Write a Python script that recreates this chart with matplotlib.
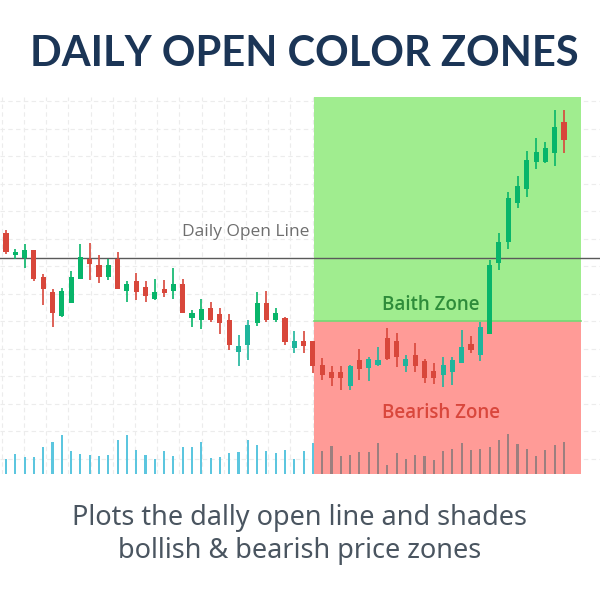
import matplotlib
matplotlib.use("Agg")
import matplotlib.pyplot as plt
import numpy as np
from matplotlib.ticker import FixedLocator

# candle data (price units, daily open = 100)
opens = [102.5, 100.3, 100.0, 100.8, 98.1, 96.6, 94.2, 95.5, 97.9, 99.9,
         99.3, 98.1, 99.9, 96.7, 97.7, 97.1, 95.9, 96.9, 96.7, 97.4,
         94.0, 93.8, 95.0, 94.4, 93.8, 90.6, 91.3, 93.5, 95.5, 93.8,
         94.0, 91.0, 91.7, 91.7, 89.3, 88.6, 88.6, 87.2, 89.8, 89.0,
         89.3, 92.0, 91.7, 89.2, 90.3, 89.7, 88.7, 88.3, 88.6, 89.5,
         91.4, 90.3, 92.4, 99.5, 101.6, 105.5, 106.9, 109.6, 109.6, 110.5,
         113.6]
highs = [102.8, 100.9, 101.4, 100.8, 98.4, 96.9, 97.0, 98.7, 101.4, 101.5,
         100.3, 99.9, 100.6, 97.7, 98.5, 97.7, 97.9, 97.8, 99.0, 97.9,
         94.8, 95.9, 95.6, 95.0, 94.4, 92.3, 93.8, 96.6, 96.7, 95.0,
         94.1, 92.7, 92.7, 91.7, 90.0, 89.2, 89.2, 89.3, 90.9, 90.1,
         91.1, 93.0, 92.5, 90.3, 91.5, 89.9, 89.5, 90.1, 90.1, 92.8,
         92.2, 93.6, 99.8, 102.5, 106.6, 108.2, 110.7, 112.0, 111.6, 114.8,
         114.8]
lows = [100.4, 99.9, 99.0, 97.7, 95.3, 93.1, 94.1, 95.5, 97.9, 97.8,
        97.5, 97.8, 96.9, 95.6, 95.8, 95.6, 95.8, 96.1, 95.9, 94.5,
        93.1, 92.9, 93.6, 92.4, 90.8, 89.2, 89.8, 93.2, 93.6, 93.6,
        91.3, 90.5, 90.5, 88.5, 87.8, 87.2, 86.8, 86.8, 87.8, 87.7,
        89.2, 89.8, 89.1, 88.6, 88.6, 87.5, 87.4, 87.1, 87.3, 89.5,
        90.5, 89.7, 92.4, 98.8, 100.9, 105.0, 106.1, 108.9, 109.5, 109.2,
        110.5]
closes = [100.6, 100.6, 100.8, 97.9, 96.9, 94.5, 96.7, 98.1, 100.1, 99.4,
          98.1, 99.3, 96.9, 97.4, 96.6, 96.2, 96.6, 96.5, 97.4, 94.5,
          94.5, 94.9, 93.8, 93.5, 91.3, 91.2, 93.3, 95.5, 93.8, 94.5,
          91.6, 91.7, 91.2, 89.2, 88.3, 88.0, 88.0, 89.2, 88.9, 89.9,
          89.8, 89.9, 90.1, 89.9, 89.2, 88.0, 88.0, 89.3, 89.8, 91.1,
          90.8, 93.1, 99.3, 101.6, 106.0, 107.2, 109.8, 110.6, 111.0, 113.1,
          111.8]
volumes = [460, 600, 520, 510, 810, 980, 1170, 700, 600, 560,
           550, 580, 1020, 1190, 720, 580, 450, 700, 550, 810,
           810, 960, 470, 520, 640, 660, 1020, 880, 680, 630,
           730, 450, 700, 950, 680, 850, 550, 560, 670, 660,
           930, 280, 630, 450, 580, 530, 430, 700, 760, 930,
           730, 760, 820, 1030, 1210, 910, 760, 550, 730, 880,
           970]

daily_open = 100.0
zone_split = 93.7
zone_top = 116.1
zone_bottom = 78.4
zone_start = 33.1
zone_end = 61.8

c_red = '#d8473b'
c_teal = '#1fb59c'
c_green = '#08b56a'

fig = plt.figure(figsize=(6, 6), dpi=100)
fig.patch.set_facecolor('white')

ax = fig.add_axes([0, 0.21, 1, 0.6283])
ax.set_xlim(-6 / 9.3, 594 / 9.3)
ax.set_ylim(zone_bottom, zone_top)
for s in ax.spines.values():
    s.set_visible(False)
ax.tick_params(length=0, labelleft=False, labelbottom=False)

# light dashed grid
ax.xaxis.set_major_locator(FixedLocator(np.arange(1.935 - 2.387, 64, 2.387)))
ax.yaxis.set_major_locator(FixedLocator(np.arange(115.7, 78, -2.75)))
ax.grid(True, color='#ececec', linestyle=(0, (4, 3)), linewidth=0.8)
ax.set_axisbelow(True)

# zones
ax.fill_between([zone_start, zone_end], zone_split, zone_top, color='#a0ed8f', lw=0, zorder=1)
ax.fill_between([zone_start, zone_end], zone_bottom, zone_split, color='#ff9b97', lw=0, zorder=1)
ax.plot([zone_start, zone_end], [zone_split, zone_split], color='#74d874', lw=1.2, zorder=1.5)

# daily open line
ax.axhline(daily_open, color='#5a5a5a', lw=1, zorder=2)

# candles
x = np.arange(len(opens))
for i in x:
    o, h, l, c = opens[i], highs[i], lows[i], closes[i]
    if c >= o:
        col = c_green if c > zone_split else c_teal
    else:
        col = c_red
    ax.vlines(i, l, h, color=col, lw=1.2, zorder=4)
    ax.bar(i, abs(c - o), bottom=min(o, c), width=0.55, color=col, zorder=5)

# volume on twin axis, drawn above the zones
axv = ax.twinx()
axv.set_ylim(0, 11370)
axv.axis('off')
vcol = ['#5cc6df' if i < zone_start + 0.5 else '#9c7f7f' for i in x]
axv.bar(x, volumes, width=0.22, color=vcol, zorder=3)

ax.text(33.2 - 0.55, 102.6, 'Daily Open Line', ha='right', va='center',
        fontsize=12.5, color='#6e6e6e', family='Open Sans', zorder=6)
ax.text(45.7, 95.3, 'Baith Zone', ha='center', va='center', fontsize=13.5,
        color='#2e8c3a', family='Open Sans', weight='semibold', zorder=6)
ax.text(46.8, 84.5, 'Bearish Zone', ha='center', va='center', fontsize=13.5,
        color='#d9473c', family='Open Sans', weight='semibold', zorder=6)

fig.text(0.507, 0.91, 'DAILY OPEN COLOR ZONES', ha='center', va='center',
         fontsize=30, weight='bold', color='#1b3556', family='Lato')
fig.text(0.5, 0.136, 'Plots the dally open line and shades', ha='center', va='center',
         fontsize=19.5, color='#4a5560', family='Noto Sans')
fig.text(0.5, 0.081, 'bollish & bearish price zones', ha='center', va='center',
         fontsize=19.5, color='#4a5560', family='Noto Sans')

fig.savefig('out.png', dpi=100, facecolor='white')
